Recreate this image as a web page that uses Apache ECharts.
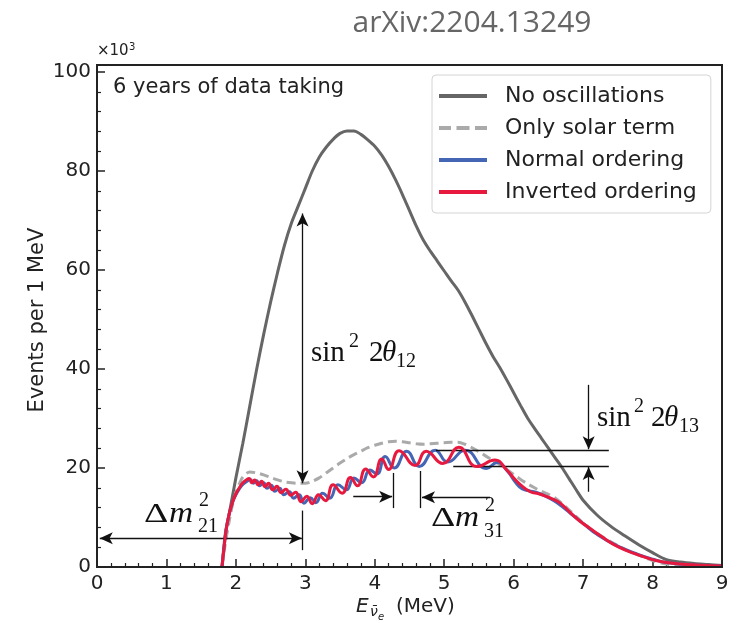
<!DOCTYPE html>
<html>
<head>
<meta charset="utf-8">
<script src="https://cdn.jsdelivr.net/npm/echarts@6/dist/echarts.min.js"></script>
<style>
  html, body { margin: 0; padding: 0; background: #fff; }
  #chart { width: 746px; height: 623px; }
</style>
</head>
<body>
<div id="chart"></div>
<script>
// Reactor antineutrino spectrum, events per 1 MeV (in units of 10^3), 6 years
const energyNoOsc = [1.80,1.85,1.90,2.00,2.10,2.20,2.30,2.40,2.50,2.60,2.70,2.80,2.90,3.00,3.10,3.20,3.30,3.40,3.50,3.60,3.70,3.80,3.90,4.00,4.10,4.20,4.30,4.40,4.50,4.60,4.70,4.80,4.90,5.00,5.10,5.20,5.30,5.40,5.50,5.60,5.70,5.80,5.90,6.00,6.10,6.20,6.30,6.40,6.50,6.60,6.70,6.80,6.90,7.00,7.20,7.40,7.60,7.80,8.00,8.20,8.40,8.60,8.80,9.00];
const eventsNoOsc = [0,7,10.5,18,25,32.5,40,47,53.5,59.5,65,69.5,73,76.5,80,82.8,84.8,86.4,87.6,88.1,88.1,87.4,86.3,85.0,83.2,80.9,78.2,75.2,72.0,68.8,66.0,63.8,61.8,59.8,57.8,55.9,53.5,50.8,48.0,45.2,42.6,40.3,37.8,35.2,32.6,30.1,28.0,26.0,24.0,22.0,20.0,17.8,15.6,13.5,10.5,8.2,6.3,4.5,2.9,1.5,1.0,0.7,0.5,0.3];

const energySolar = [1.80,1.85,1.90,1.95,2.00,2.05,2.10,2.20,2.30,2.40,2.50,2.60,2.70,2.80,2.90,3.00,3.10,3.20,3.30,3.40,3.50,3.60,3.70,3.80,3.90,4.00,4.10,4.20,4.30,4.40,4.50,4.60,4.70,4.80,4.90,5.00,5.10,5.20,5.30,5.40,5.50,5.60,5.70,5.80,5.90,6.00,6.10,6.20,6.30,6.40,6.50,6.60,6.70,6.80,6.90,7.00,7.20,7.40,7.60,7.80,8.00,8.20,8.40,8.60,9.00];
const eventsSolar = [0,5,9,12.5,15,16.8,18.2,19.2,19.0,18.6,18.1,17.6,17.2,17.0,16.9,16.9,17.3,18.0,19.0,20.0,21.0,21.9,22.7,23.4,24.1,24.6,25.0,25.3,25.4,25.3,25.1,24.9,24.8,24.9,25.0,25.1,25.2,25.2,24.8,24.1,23.3,22.4,21.5,20.7,19.7,18.7,17.7,16.8,16.0,15.3,14.7,13.9,12.8,11.5,10.2,8.9,6.8,5.1,3.6,2.4,1.3,0.6,0.3,0.2,0.1];

const energyNormal = [1.80,1.83,1.86,1.90,1.95,2.00,2.05,2.10,2.15,2.21,2.25,2.30,2.34,2.40,2.45,2.51,2.56,2.63,2.69,2.77,2.83,2.91,2.98,3.07,3.15,3.25,3.35,3.47,3.59,3.70,3.81,3.93,4.03,4.15,4.28,4.46,4.64,4.87,5.05,5.30,5.61,5.76,5.92,6.02,6.12,6.22,6.34,6.46,6.58,6.68,6.82,7.00,7.20,7.50,7.80,8.00,8.20,8.50,9.00];
const eventsNormal = [0,4,7.5,10.5,13,14.6,15.8,16.7,17.2,17.7,16.9,17.4,16.4,17.0,15.9,16.5,15.3,15.9,14.6,15.2,13.9,14.6,12.9,14.0,13.0,14.9,13.9,16.6,15.6,18.0,17.0,19.6,18.8,22.3,20.0,23.4,20.3,23.6,21.2,23.6,19.9,21.1,19.2,17.2,15.8,15.4,15.0,14.3,13.4,12.4,10.8,8.8,6.6,4.2,2.5,1.6,0.9,0.5,0.2];

const energyInverted = [1.80,1.83,1.86,1.90,1.95,2.00,2.05,2.10,2.15,2.19,2.23,2.27,2.32,2.37,2.42,2.47,2.53,2.59,2.65,2.72,2.79,2.86,2.94,3.02,3.10,3.19,3.29,3.40,3.53,3.65,3.75,3.87,3.98,4.10,4.20,4.35,4.58,4.74,4.98,5.21,5.47,5.73,5.90,6.00,6.10,6.24,6.36,6.48,6.58,6.67,6.80,6.96,7.10,7.25,7.50,7.80,8.00,8.20,8.50,9.00];
const eventsInverted = [0,4,7.5,10.5,13,14.8,16.0,17.0,17.6,17.9,17.0,17.6,16.6,17.3,16.2,16.9,15.6,16.3,15.0,15.7,14.5,15.1,13.2,14.3,12.8,14.6,13.4,16.6,14.9,18.1,16.4,19.8,18.2,21.8,19.7,23.5,20.5,23.4,20.9,24.2,20.3,21.6,19.6,18.0,16.6,15.2,14.8,14.2,13.6,12.9,11.2,9.2,7.8,6.3,4.1,2.4,1.5,0.9,0.5,0.2];

const seriesNames = ['No oscillations', 'Only solar term', 'Normal ordering', 'Inverted ordering'];
const xTicks = [0, 1, 2, 3, 4, 5, 6, 7, 8, 9];
const yTicks = [0, 20, 40, 60, 80, 100];

// Annotation arrows and guide lines, in data units (MeV, 10^3 events)
const guides = [
  { from: [0.04, 5.8],  to: [2.95, 5.8],  heads: 'both' },
  { from: [2.96, 3.4],  to: [2.96, 11.4], heads: 'none' },
  { from: [2.96, 16.9], to: [2.96, 71.4], heads: 'both' },
  { from: [4.27, 11.9], to: [4.27, 19.0], heads: 'none' },
  { from: [4.65, 11.9], to: [4.65, 19.4], heads: 'none' },
  { from: [3.69, 14.2], to: [4.25, 14.2], heads: 'end' },
  { from: [5.66, 14.1], to: [4.68, 14.1], heads: 'end' },
  { from: [4.88, 23.6], to: [7.37, 23.6], heads: 'none' },
  { from: [5.13, 20.4], to: [7.37, 20.4], heads: 'none' },
  { from: [7.08, 36.8], to: [7.08, 23.8], heads: 'end' },
  { from: [7.08, 15.2], to: [7.08, 20.2], heads: 'end' }
];

const pair = (xs, ys) => xs.map((x, i) => [x, ys[i]]);

const ink = '#222';
const sans = 'DejaVu Sans';
const serif = 'Liberation Serif';
const colors = ['#666666', '#aaaaaa', '#4565b5', '#e8193f'];

const guideData = guides.map(g => [
  { coord: g.from, symbol: g.heads === 'both' ? 'arrow' : 'none' },
  { coord: g.to, symbol: (g.heads === 'both' || g.heads === 'end') ? 'arrow' : 'none' }
]);

// A text piece placed by its left edge and baseline
function piece(x, base, text, size, opts) {
  opts = opts || {};
  return {
    type: 'text', x: x, y: base - 0.3 * size, silent: true, z: 100,
    scaleX: opts.sx || 1,
    style: {
      text: text,
      fontFamily: opts.family || serif,
      fontSize: size,
      fontStyle: opts.italic ? 'italic' : 'normal',
      fill: opts.color || '#111',
      align: 'left',
      verticalAlign: 'middle'
    }
  };
}
const it = { italic: true };
const sansInk = { family: sans, color: ink };

const labels = [
  // Δm²21
  piece(144, 523, 'Δ', 27, { sx: 1.4 }), piece(169, 523, 'm', 29, { italic: true, sx: 1.15 }),
  piece(199, 507, '2', 20), piece(198, 533, '21', 20),
  // sin² 2θ12
  piece(311, 362, 'sin', 29), piece(349, 348, '2', 20),
  piece(369, 362, '2', 29), piece(382, 362, 'θ', 29, it), piece(396, 368, '12', 20),
  // sin² 2θ13
  piece(597, 427, 'sin', 29), piece(634, 413, '2', 20),
  piece(651, 427, '2', 29), piece(664, 427, 'θ', 29, it), piece(679, 433, '13', 20),
  // Δm²31
  piece(431, 527, 'Δ', 27, { sx: 1.4 }), piece(455, 527, 'm', 29, { italic: true, sx: 1.15 }),
  piece(485, 512, '2', 20), piece(484, 538, '31', 20),
  // x axis title
  piece(356, 613, 'E', 20, { italic: true, family: sans, color: ink }),
  piece(370, 617, 'ν̄', 14, { italic: true, family: sans, color: ink }),
  piece(378, 620, 'e', 10, { italic: true, family: sans, color: ink }),
  piece(396, 613, '(MeV)', 20, sansInk),
  // multiplier
  piece(97, 56, '×10', 15, sansInk),
  piece(129, 50, '3', 10, sansInk)
];

// Legend keys: solid bars and a three-dash bar
const solidKey = 'path://M0,0h48v4h-48z';
const dashedKey = 'path://M0,0h12v4h-12z M17.5,0h13v4h-13z M36,0h12v4h-12z';

const option = {
  animation: false,
  backgroundColor: '#fff',
  grid: { left: 97, right: 24, top: 72, bottom: 56, show: false },
  legend: {
    orient: 'vertical',
    left: 432, top: 75,
    padding: [10, 14, 10, 7],
    itemWidth: 48, itemHeight: 4, itemGap: 10,
    borderColor: '#d4d4d4', borderWidth: 1, borderRadius: 4,
    backgroundColor: 'rgba(255,255,255,0.9)',
    textStyle: { fontFamily: sans, fontSize: 22, color: ink, padding: [0, 0, 0, 13], lineHeight: 22 },
    data: [
      { name: seriesNames[0], icon: solidKey },
      { name: seriesNames[1], icon: dashedKey },
      { name: seriesNames[2], icon: solidKey },
      { name: seriesNames[3], icon: solidKey }
    ]
  },
  xAxis: {
    type: 'value', min: xTicks[0], max: xTicks[xTicks.length - 1], interval: 1,
    axisLine: { show: false },
    axisTick: { inside: true, length: 8, lineStyle: { color: ink, width: 1.5 } },
    minorTick: { show: true, splitNumber: 5, length: 4, lineStyle: { color: ink, width: 1.2 } },
    splitLine: { show: false },
    axisLabel: { fontFamily: sans, fontSize: 20, color: ink, margin: 7 }
  },
  yAxis: {
    type: 'value', min: yTicks[0], max: yTicks[yTicks.length - 1], interval: 20,
    axisLine: { show: false },
    axisTick: { inside: true, length: 8, lineStyle: { color: ink, width: 1.5 } },
    minorTick: { show: true, splitNumber: 5, length: 4, lineStyle: { color: ink, width: 1.2 } },
    splitLine: { show: false },
    axisLabel: { fontFamily: sans, fontSize: 20, color: ink, margin: 6 }
  },
  series: [
    {
      name: seriesNames[0], type: 'line', data: pair(energyNoOsc, eventsNoOsc),
      showSymbol: false, symbol: 'none', smooth: 0.3,
      lineStyle: { color: colors[0], width: 3 }, itemStyle: { color: colors[0] }, z: 2
    },
    {
      name: seriesNames[1], type: 'line', data: pair(energySolar, eventsSolar),
      showSymbol: false, symbol: 'none', smooth: 0.3,
      lineStyle: { color: colors[1], width: 3, type: [9, 5] }, itemStyle: { color: colors[1] }, z: 3
    },
    {
      name: seriesNames[2], type: 'line', data: pair(energyNormal, eventsNormal),
      showSymbol: false, symbol: 'none', smooth: 0.5,
      lineStyle: { color: colors[2], width: 3 }, itemStyle: { color: colors[2] }, z: 4
    },
    {
      name: seriesNames[3], type: 'line', data: pair(energyInverted, eventsInverted),
      showSymbol: false, symbol: 'none', smooth: 0.5,
      lineStyle: { color: colors[3], width: 3 }, itemStyle: { color: colors[3] }, z: 5,
      markLine: {
        silent: true, animation: false,
        symbolSize: [9, 13],
        label: { show: false },
        emphasis: { disabled: true },
        lineStyle: { color: '#111', width: 1.3, type: 'solid' },
        data: guideData
      }
    }
  ],
  graphic: [
    {
      type: 'rect', silent: true, z: 50,
      shape: { x: 97, y: 65, width: 625, height: 502 },
      style: { fill: 'none', stroke: ink, lineWidth: 2 }
    },
    {
      type: 'text', x: 472, y: 23, silent: true,
      style: { text: 'arXiv:2204.13249', fontFamily: 'Open Sans', fontSize: 30, fill: '#666', align: 'center', verticalAlign: 'middle' }
    },
    {
      type: 'text', x: 113, y: 88, silent: true, z: 100,
      style: { text: '6 years of data taking', fontFamily: sans, fontSize: 21, fill: ink, align: 'left', verticalAlign: 'middle' }
    },
    {
      type: 'text', x: 38, y: 320, rotation: Math.PI / 2, silent: true,
      style: { text: 'Events per 1 MeV', fontFamily: sans, fontSize: 21, fill: ink, align: 'center', verticalAlign: 'middle' }
    }
  ].concat(labels)
};

const chart = echarts.init(document.getElementById('chart'), null, { renderer: 'canvas' });
chart.setOption(option);
</script>
</body>
</html>
